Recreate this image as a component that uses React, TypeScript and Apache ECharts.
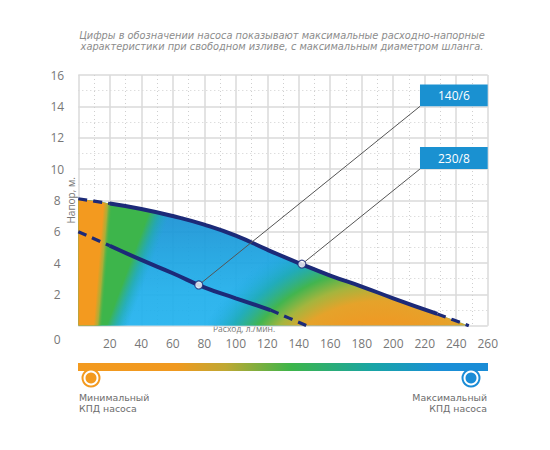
import React, { useEffect, useRef } from 'react';
import * as echarts from 'echarts';

// ---- data ----
const flowMin = 0;
const flowMax = 260;
const headMin = 0;
const headMax = 16;

// pump 230/8 curve (flow l/min, head m)
const curve230Flow = [0, 20, 40, 60, 80, 100, 120, 140, 160, 180, 200, 228, 248];
const curve230Head = [8.1, 7.8, 7.45, 7.0, 6.45, 5.75, 4.85, 4.0, 3.2, 2.5, 1.75, 0.75, 0];

// pump 140/6 curve
const curve140Flow = [0, 20, 40, 60, 80, 100, 122, 145];
const curve140Head = [6.0, 5.1, 4.2, 3.35, 2.45, 1.75, 1.0, 0];

// rated points
const pumpNames = ['140/6', '230/8'];
const pumpFlow = [76.5, 142];
const pumpHead = [2.6, 3.93];

const titleLines = [
  'Цифры в обозначении насоса показывают максимальные расходно-напорные',
  'характеристики при свободном изливе, с максимальным диаметром шланга.',
];
const yName = 'Напор, м.';
const xName = 'Расход, л./мин.';
const minLines = ['Минимальный', 'КПД насоса'];
const maxLines = ['Максимальный', 'КПД насоса'];

const FONT = '"Open Sans", "DejaVu Sans", sans-serif';
const NAVY = '#1c2a78';
const ORANGE = '#f39a1f';
const GREEN = '#3db54b';
const BLUE_BOX = '#1a91d1';

const zip = (xs: number[], ys: number[]) => xs.map((x, i) => [x, ys[i]]);

export default function App() {
  const ref = useRef<HTMLDivElement>(null);

  useEffect(() => {
    if (!ref.current) return;
    const chart = echarts.init(ref.current, null, { renderer: 'svg' });

    const up = zip(curve230Flow, curve230Head);
    const lo = zip(curve140Flow, curve140Head);

    const lineBase = (data: number[][], dashed: boolean, z: number) => ({
      type: 'line',
      data,
      smooth: true,
      symbol: 'none',
      silent: true,
      z,
      lineStyle: {
        color: NAVY,
        width: dashed ? 3.2 : 4,
        type: dashed ? [9, 6] : 'solid',
        cap: 'butt',
      },
    });

    const fillSeries = (id: string, opacity: number) => ({
      id,
      type: 'line',
      data: up,
      smooth: true,
      symbol: 'none',
      silent: true,
      z: 1,
      lineStyle: { width: 0, opacity: 0 },
      areaStyle: { color: 'rgba(0,0,0,0)', opacity },
    });

    const callouts = pumpNames.map((n, i) => ({
      name: n,
      from: [pumpFlow[i], pumpHead[i]],
      to: i === 0 ? [217, 14] : [217, 10],
      corner: i === 0 ? [260, 15.4] : [260, 11.4],
    }));

    const smallText = (text: string, x: number, y: number, align: string) => ({
      type: 'text',
      x,
      y,
      style: {
        text,
        fill: '#6d6d6d',
        fontSize: 9.4,
        fontFamily: '"DejaVu Sans", sans-serif',
        align,
        verticalAlign: 'middle',
      },
    });

    const option: any = {
      animation: false,
      grid: { left: 78.3, right: 62.3, top: 75, bottom: 124.3 },
      xAxis: {
        type: 'value',
        min: flowMin,
        max: flowMax,
        interval: 20,
        axisLine: { show: false },
        axisTick: { show: false },
        minorTick: { show: false, splitNumber: 2 },
        minorSplitLine: { show: true, lineStyle: { color: '#cfcfcf', width: 1, type: [1, 3] } },
        splitLine: { show: true, lineStyle: { color: '#dadada', width: 1.5 } },
        axisLabel: {
          formatter: (v: number) => (v === 0 ? '' : String(v)),
          color: '#777',
          fontSize: 12,
          fontFamily: FONT,
          margin: 12,
        },
      },
      yAxis: {
        type: 'value',
        min: headMin,
        max: headMax,
        interval: 2,
        axisLine: { show: false },
        axisTick: { show: false },
        minorTick: { show: false, splitNumber: 2 },
        minorSplitLine: { show: true, lineStyle: { color: '#cfcfcf', width: 1, type: [1, 3] } },
        splitLine: { show: true, lineStyle: { color: '#dadada', width: 1.5 } },
        name: yName,
        nameLocation: 'middle',
        nameRotate: 90,
        nameGap: 2,
        nameMoveOverlap: false,
        nameTextStyle: { color: '#777', fontSize: 10, fontFamily: FONT },
        axisLabel: {
          formatter: (v: number) => (v === 0 ? '{z|0}' : String(v)),
          color: '#777',
          fontSize: 12,
          fontFamily: FONT,
          align: 'center',
          margin: 21,
          rich: { z: { padding: [28, 0, 0, 0], color: '#777', fontSize: 12, fontFamily: FONT } },
        },
      },
      series: [
        fillSeries('fillBlue', 0.93),
        fillSeries('fillGreen', 1),
        fillSeries('fillOrangeL', 1),
        fillSeries('fillOrangeR', 0.97),
        lineBase(up.slice(0, 2), true, 3),
        lineBase(up.slice(1, 12), false, 3),
        lineBase(up.slice(11), true, 3),
        lineBase(lo.slice(0, 2), true, 3),
        lineBase(lo.slice(1, 7), false, 3),
        lineBase(lo.slice(6), true, 3),
        {
          type: 'scatter',
          data: [],
          z: 4,
          silent: true,
          markLine: {
            silent: true,
            symbol: ['none', 'none'],
            label: { show: false },
            lineStyle: { color: '#555', width: 1, type: 'solid' },
            data: callouts.map((c) => [{ coord: c.from }, { coord: c.to }]),
          },
          markArea: {
            silent: true,
            itemStyle: { color: BLUE_BOX, opacity: 1 },
            label: {
              show: true,
              position: 'inside',
              color: '#fff',
              fontSize: 12,
              fontFamily: FONT,
            },
            data: callouts.map((c) => [{ coord: c.to, name: c.name }, { coord: c.corner }]),
          },
        },
        {
          type: 'scatter',
          data: zip(pumpFlow, pumpHead),
          z: 6,
          silent: true,
          symbol: 'circle',
          symbolSize: 8,
          itemStyle: { color: '#fff', borderColor: NAVY, borderWidth: 1.2 },
        },
      ],
      graphic: [
        ...titleLines.map((t, i) => ({
          type: 'text',
          x: 282,
          y: 35.5 + i * 11,
          style: {
            text: t,
            fill: '#8c8c8c',
            font: 'italic 9.8px "DejaVu Sans", sans-serif',
            align: 'center',
            verticalAlign: 'middle',
          },
        })),
        {
          type: 'text',
          left: 213,
          top: 324,
          style: { text: xName, fill: '#777', fontSize: 8.5, fontFamily: FONT },
        },
        {
          type: 'rect',
          shape: { x: 78, y: 363, width: 410, height: 8 },
          style: {
            fill: new echarts.graphic.LinearGradient(0, 0, 1, 0, [
              { offset: 0, color: ORANGE },
              { offset: 0.24, color: '#f0991f' },
              { offset: 0.36, color: '#bfa833' },
              { offset: 0.52, color: '#3cb54a' },
              { offset: 0.72, color: '#18a4a6' },
              { offset: 0.88, color: '#1a8fd6' },
              { offset: 1, color: '#1a8cd6' },
            ]),
          },
        },
        { type: 'circle', shape: { cx: 91, cy: 378, r: 9.5 }, style: { fill: ORANGE } },
        { type: 'circle', shape: { cx: 91, cy: 378, r: 7.5 }, style: { fill: '#fff' } },
        { type: 'circle', shape: { cx: 91, cy: 378, r: 5.5 }, style: { fill: ORANGE } },
        { type: 'circle', shape: { cx: 471, cy: 378, r: 9.5 }, style: { fill: '#1a8cd6' } },
        { type: 'circle', shape: { cx: 471, cy: 378, r: 7.5 }, style: { fill: '#fff' } },
        { type: 'circle', shape: { cx: 471, cy: 378, r: 5.5 }, style: { fill: '#1a8cd6' } },
        ...minLines.map((t, i) => smallText(t, 79, 397.5 + i * 11.2, 'left')),
        ...maxLines.map((t, i) => smallText(t, 487, 397.5 + i * 11.2, 'right')),
      ],
    };

    chart.setOption(option);

    const px = (x: number, y: number) => chart.convertToPixel({ gridIndex: 0 }, [x, y]) as number[];
    const along = (d: number[], a: number[], b: number[]) => {
      const s0 = a[0] * d[0] + a[1] * d[1];
      const s1 = b[0] * d[0] + b[1] * d[1];
      return [s0 * d[0], s0 * d[1], s1 * d[0], s1 * d[1]];
    };
    const norm = (v: number[]) => {
      const l = Math.hypot(v[0], v[1]);
      return [v[0] / l, v[1] / l];
    };
    const linear = (d: number[], a: number[], b: number[], stops: any[]) => {
      const c = along(norm(d), a, b);
      return new echarts.graphic.LinearGradient(c[0], c[1], c[2], c[3], stops, true);
    };

    const midHead = curve230Head[0] / 2;

    // base: deeper blue near the upper curve, lighter low down
    const gBlue = linear([0, 1], px(0, 7), px(0, 0), [
      { offset: 0, color: '#1a92d4' },
      { offset: 0.36, color: '#1ba2e0' },
      { offset: 0.71, color: '#20afeb' },
      { offset: 1, color: '#22b2ee' },
    ]);

    // green wedge at low flow, fading into the blue
    const gGreen = linear([1, 0.375], px(28, midHead), px(52, midHead), [
      { offset: 0, color: GREEN },
      { offset: 0.21, color: GREEN },
      { offset: 0.5, color: 'rgba(34,172,160,0.65)' },
      { offset: 0.79, color: 'rgba(30,170,200,0)' },
      { offset: 1, color: 'rgba(30,170,200,0)' },
    ]);

    // orange strip at the very low flow
    const gOrangeL = linear([1, 0.081], px(5, midHead), px(25, midHead), [
      { offset: 0, color: ORANGE },
      { offset: 0.4, color: ORANGE },
      { offset: 0.53, color: 'rgba(182,173,53,0.9)' },
      { offset: 0.68, color: 'rgba(61,181,75,0)' },
      { offset: 1, color: 'rgba(61,181,75,0)' },
    ]);

    // orange corner at high flow / low head
    const c2 = px(192, -6.6);
    const gOrangeR = new echarts.graphic.RadialGradient(
      c2[0], c2[1], 210,
      [
        { offset: 0, color: ORANGE },
        { offset: 0.52, color: ORANGE },
        { offset: 0.61, color: '#eba224' },
        { offset: 0.69, color: '#a8b538' },
        { offset: 0.765, color: '#43b54a' },
        { offset: 0.86, color: 'rgba(28,170,170,0.75)' },
        { offset: 0.976, color: 'rgba(27,166,228,0)' },
        { offset: 1, color: 'rgba(27,166,228,0)' },
      ],
      true
    );

    chart.setOption({
      series: [
        { id: 'fillBlue', areaStyle: { color: gBlue } },
        { id: 'fillGreen', areaStyle: { color: gGreen } },
        { id: 'fillOrangeL', areaStyle: { color: gOrangeL } },
        { id: 'fillOrangeR', areaStyle: { color: gOrangeR } },
      ],
    });

    return () => chart.dispose();
  }, []);

  return (
    <div
      ref={ref}
      style={{ position: 'fixed', left: 0, top: 0, width: 550, height: 450, background: '#fff' }}
    />
  );
}
